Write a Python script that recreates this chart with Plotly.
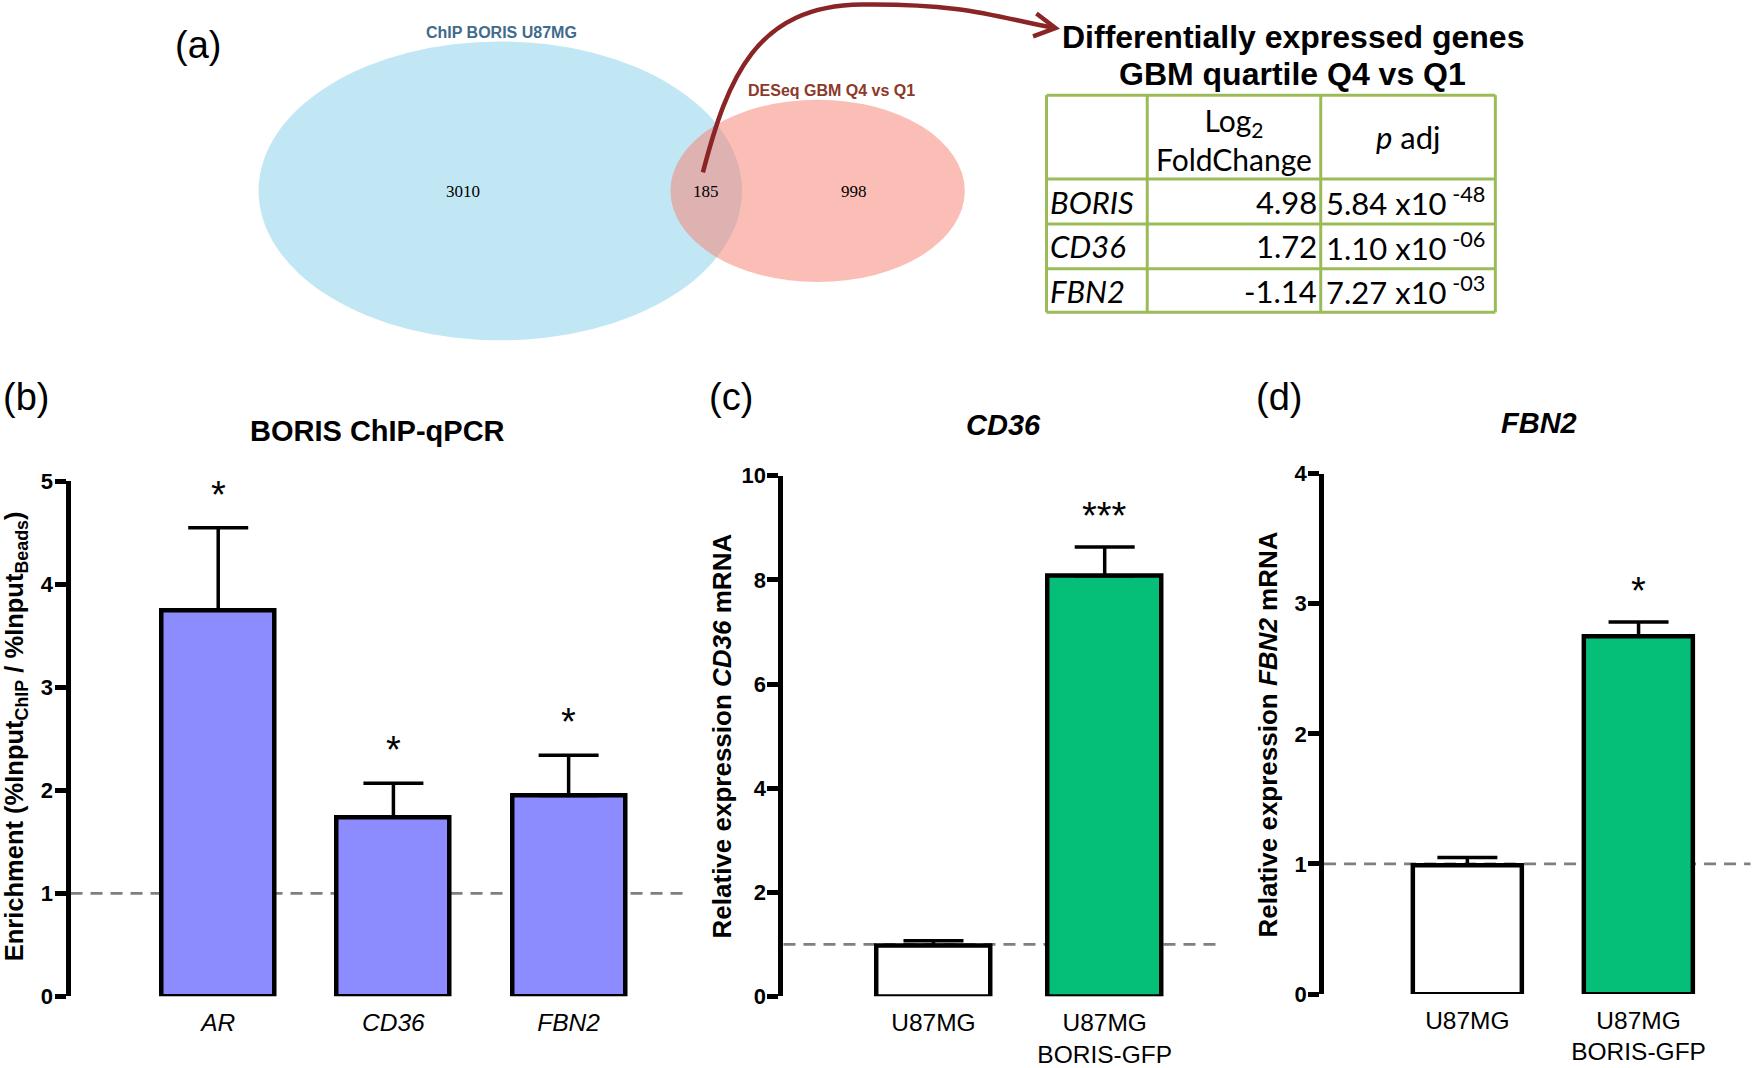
import plotly.graph_objects as go

# ---------------- data ----------------
venn_sets = ["ChIP BORIS U87MG", "DESeq GBM Q4 vs Q1"]
venn_counts = [3010, 185, 998]          # ChIP only, overlap, DESeq only

table_title = ["Differentially expressed genes", "GBM quartile Q4 vs Q1"]
table_header = ["", "Log<sub>2</sub><br>FoldChange", "<i>p</i> adj"]
table_genes = ["BORIS", "CD36", "FBN2"]
table_log2fc = [4.98, 1.72, -1.14]
table_padj_mant = [5.84, 1.10, 7.27]
table_padj_exp = ["-48", "-06", "-03"]

b_genes = ["AR", "CD36", "FBN2"]
b_mean = [3.75, 1.74, 1.95]
b_sem = [0.80, 0.33, 0.39]
b_sig = ["*", "*", "*"]

cd_groups = ["U87MG", "U87MG<br>BORIS-GFP"]
c_mean = [0.98, 8.08]
c_sem = [0.09, 0.55]
c_sig = ["", "***"]

d_mean = [0.99, 2.75]
d_sem = [0.06, 0.11]
d_sig = ["", "*"]

# ---------------- geometry helpers (measurement frame) ----------------
W, H = 1755, 1068
W0, H0 = 1568.0, 954.0


def px(x):
    return x / W0


def py(y):
    return 1 - y / H0


FONT = "Liberation Sans, Arial, sans-serif"
TFONT = "Lato, Calibri, sans-serif"
PURPLE = "#8c8cff"
GREEN = "#05bf78"
GRAY = "#7f7f7f"
TGREEN = "#9bbb59"
ARROW = "#8b2525"

fig = go.Figure()

# ---------------- bar panels ----------------
panels = [
    dict(ax="", mean=b_mean, sem=b_sem, sig=b_sig, colors=[PURPLE] * 3,
         labels=["<i>%s</i>" % g for g in b_genes], width=0.645),
    dict(ax="2", mean=c_mean, sem=c_sem, sig=c_sig, colors=["white", GREEN],
         labels=cd_groups, width=0.667),
    dict(ax="3", mean=d_mean, sem=d_sem, sig=d_sig, colors=["white", GREEN],
         labels=cd_groups, width=0.64),
]

annotations = []
shapes = []
for p in panels:
    n = len(p["mean"])
    xs = list(range(n))
    fig.add_trace(go.Bar(
        x=xs, y=p["mean"], width=p["width"],
        marker=dict(color=p["colors"], line=dict(color="black", width=4.5)),
        error_y=dict(type="data", symmetric=False, array=p["sem"],
                     arrayminus=[0] * n, color="black", thickness=3.5, width=30),
        xaxis="x" + p["ax"], yaxis="y" + p["ax"], showlegend=False,
        hoverinfo="skip"))
    for i in range(n):
        if p["sig"][i]:
            annotations.append(dict(
                x=xs[i], y=p["mean"][i] + p["sem"][i], xref="x" + p["ax"],
                yref="y" + p["ax"], text=p["sig"][i], showarrow=False,
                yanchor="bottom", yshift=8 if p["ax"] else 10,
                font=dict(family=FONT, size=38, color="black")))
    shapes.append(dict(type="line", xref="x%s domain" % p["ax"], yref="y" + p["ax"],
                       x0=0, x1=1, y0=1, y1=1, layer="below",
                       line=dict(color=GRAY, width=2.8, dash="12px,8px")))

axis_common_y = dict(showline=True, linewidth=5, linecolor="black", ticks="outside",
                     ticklen=11, tickwidth=5, tickcolor="black", showgrid=False,
                     zeroline=False, automargin=False, ticklabelstandoff=-3,
                     tickfont=dict(family=FONT, size=22, color="black", weight="bold"))
axis_common_x = dict(showline=False, ticks="", showgrid=False, zeroline=False,
                     ticklabelstandoff=9, automargin=False,
                     tickfont=dict(family=FONT, size=24.5, color="black"))

fig.update_layout(
    xaxis=dict(domain=[px(63), px(614)], range=[-0.843, 2.677], anchor="y",
               tickvals=[0, 1, 2], ticktext=panels[0]["labels"], **axis_common_x),
    yaxis=dict(domain=[py(890), py(430)], range=[0, 5], dtick=1, anchor="x",
               **axis_common_y),
    xaxis2=dict(domain=[px(700), px(1093)], range=[-0.876, 1.693], anchor="y2",
                tickvals=[0, 1], ticktext=panels[1]["labels"], **axis_common_x),
    yaxis2=dict(domain=[py(890), py(425)], range=[0, 10], dtick=2, anchor="x2",
                **axis_common_y),
    xaxis3=dict(domain=[px(1183), px(1564)], range=[-0.837, 1.654], anchor="y3",
                tickvals=[0, 1], ticktext=panels[2]["labels"], **axis_common_x),
    yaxis3=dict(domain=[py(888), py(423)], range=[0, 4], dtick=1, anchor="x3",
                **axis_common_y),
)


# ---------------- titles / labels ----------------
def paper_text(x, y, text, size, angle=0, color="black", family=FONT, xanchor="center"):
    annotations.append(dict(x=px(x), y=py(y), xref="paper", yref="paper", text=text,
                            showarrow=False, xanchor=xanchor, yanchor="middle",
                            textangle=angle, borderpad=0,
                            font=dict(family=family, size=size, color=color)))


paper_text(177, 40, "(a)", 38)
paper_text(23, 355, "(b)", 38)
paper_text(653, 355, "(c)", 38)
paper_text(1143, 355, "(d)", 38)

paper_text(337, 385, "<b>BORIS ChIP-qPCR</b>", 29)
paper_text(897, 380, "<b><i>CD36</i></b>", 29)
paper_text(1375, 378, "<b><i>FBN2</i></b>", 29)

paper_text(14, 658, "<b>Enrichment (%Input<sub>ChIP</sub> / %Input<sub>Beads</sub>)</b>", 25.5, angle=-90)
paper_text(645, 657, "<b>Relative expression <i>CD36</i> mRNA</b>", 26, angle=-90)
paper_text(1133, 656, "<b>Relative expression <i>FBN2</i> mRNA</b>", 26, angle=-90)

# ---------------- Venn diagram ----------------
shapes.append(dict(type="circle", xref="paper", yref="paper",
                   x0=px(231), x1=px(663), y0=py(304), y1=py(37),
                   fillcolor="rgb(194,231,244)", line=dict(width=0), layer="above"))
shapes.append(dict(type="circle", xref="paper", yref="paper",
                   x0=px(599), x1=px(862), y0=py(252), y1=py(89),
                   fillcolor="rgba(247,125,109,0.5)", line=dict(width=0), layer="above"))
paper_text(448, 29, "<b>%s</b>" % venn_sets[0], 16, color="#3f6b8c")
paper_text(743, 81, "<b>%s</b>" % venn_sets[1], 16, color="#8b3a2b")
serif = "Liberation Serif, Times New Roman, serif"
paper_text(414, 171, str(venn_counts[0]), 17, family=serif)
paper_text(631, 171, str(venn_counts[1]), 17, family=serif)
paper_text(763, 171, str(venn_counts[2]), 17, family=serif)


# arrow from overlap to the table
def pt(x, y):
    return "%.5f,%.5f" % (px(x), py(y))


arrow_path = ("M " + pt(628, 154) + " C " + pt(650, 70) + " " + pt(675, 5) + " " +
              pt(770, 4) + " C " + pt(865, 3) + " " + pt(892, 16) + " " + pt(942, 25))
shapes.append(dict(type="path", xref="paper", yref="paper", path=arrow_path,
                   line=dict(color=ARROW, width=4.5)))
head_path = "M " + pt(926, 12) + " L " + pt(943, 25) + " L " + pt(923, 32.5)
shapes.append(dict(type="path", xref="paper", yref="paper", path=head_path,
                   line=dict(color=ARROW, width=4.5)))

# ---------------- table ----------------
paper_text(1155, 33, "<b>%s</b>" % table_title[0], 32)
paper_text(1155, 66, "<b>%s</b>" % table_title[1], 32)

col_edges = [935, 1025, 1180, 1336]
row_edges = [85, 160, 200, 240, 279]
for xe in col_edges:
    shapes.append(dict(type="line", xref="paper", yref="paper", x0=px(xe), x1=px(xe),
                       y0=py(row_edges[0]), y1=py(row_edges[-1]),
                       line=dict(color=TGREEN, width=3)))
for ye in row_edges:
    shapes.append(dict(type="line", xref="paper", yref="paper", x0=px(col_edges[0]),
                       x1=px(col_edges[-1]), y0=py(ye), y1=py(ye),
                       line=dict(color=TGREEN, width=3)))

head_y = (row_edges[0] + row_edges[1]) / 2.0
paper_text((col_edges[1] + col_edges[2]) / 2.0, head_y + 2, table_header[1], 30, family=TFONT)
paper_text((col_edges[2] + col_edges[3]) / 2.0, head_y, table_header[2], 31, family=TFONT)

for i, g in enumerate(table_genes):
    yc = (row_edges[i + 1] + row_edges[i + 2]) / 2.0
    paper_text(col_edges[0] + 2, yc, "<i>%s</i>" % g, 31, family=TFONT, xanchor="left")
    paper_text(col_edges[2] - 2, yc, "%.2f" % table_log2fc[i], 31, family=TFONT,
               xanchor="right")
    paper_text(col_edges[2] + 4, yc,
               "%.2f x10<sup> %s</sup>" % (table_padj_mant[i], table_padj_exp[i]),
               31, family=TFONT, xanchor="left")

fig.update_layout(
    width=W, height=H, margin=dict(l=0, r=0, t=0, b=0, pad=0), autosize=False,
    paper_bgcolor="white", plot_bgcolor="white", showlegend=False,
    font=dict(family=FONT, color="black"),
    annotations=annotations, shapes=shapes, bargap=0,
)

fig.write_html("out.html", config={"displayModeBar": False},
               post_script="document.body.style.margin='0px';"
                           "document.body.style.overflow='hidden';")
